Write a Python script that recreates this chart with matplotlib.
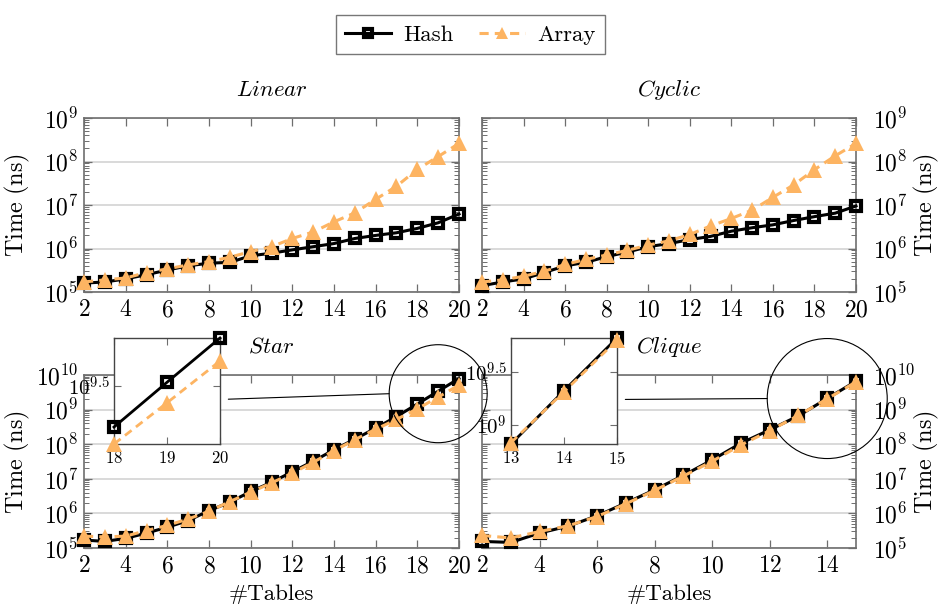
import matplotlib.pyplot as plt
import matplotlib.transforms as mtransforms
from matplotlib.patches import Circle, ConnectionPatch
from matplotlib.ticker import LogLocator, NullFormatter, FixedLocator, FixedFormatter

plt.rcParams['font.family'] = 'cmr10'
plt.rcParams['mathtext.fontset'] = 'cm'
plt.rcParams['axes.formatter.use_mathtext'] = True

HASH_COLOR = 'black'
ARRAY_COLOR = '#fdb462'
SPINE_COLOR = '#6e6e6e'
GRID_COLOR = '#cfcfcf'

# number of joined tables
tables_20 = list(range(2, 21))
tables_15 = list(range(2, 16))

# run times in ns
linear_hash = [1.6e5, 1.7e5, 2.0e5, 2.5e5, 3.2e5, 4.0e5, 4.6e5, 4.8e5, 6.8e5, 7.8e5,
               9.3e5, 1.1e6, 1.3e6, 1.7e6, 2.0e6, 2.3e6, 2.9e6, 3.9e6, 6.2e6]
linear_array = [1.7e5, 1.9e5, 2.1e5, 2.8e5, 3.4e5, 4.2e5, 5.0e5, 6.3e5, 8.5e5, 1.1e6,
                1.7e6, 2.4e6, 4.1e6, 6.6e6, 1.35e7, 2.7e7, 6.6e7, 1.3e8, 2.6e8]

cyclic_hash = [1.4e5, 1.7e5, 2.0e5, 2.8e5, 4.0e5, 4.8e5, 6.5e5, 8.3e5, 1.1e6, 1.3e6,
               1.6e6, 1.9e6, 2.5e6, 3.0e6, 3.5e6, 4.4e6, 5.4e6, 6.5e6, 9.5e6]
cyclic_array = [1.7e5, 1.9e5, 2.3e5, 3.0e5, 4.3e5, 5.6e5, 7.1e5, 9.1e5, 1.2e6, 1.5e6,
                2.1e6, 3.3e6, 4.9e6, 7.6e6, 1.5e7, 2.9e7, 6.5e7, 1.35e8, 2.6e8]

star_hash = [1.7e5, 1.55e5, 1.9e5, 2.7e5, 4.0e5, 6.2e5, 1.2e6, 2.1e6, 4.3e6, 7.9e6,
             1.6e7, 3.2e7, 6.9e7, 1.4e8, 2.9e8, 6.3e8, 1.45e9, 3.4e9, 7.9e9]
star_array = [2.2e5, 2.1e5, 2.2e5, 3.2e5, 4.5e5, 6.9e5, 1.15e6, 2.2e6, 4.1e6, 7.6e6,
              1.45e7, 3.0e7, 6.5e7, 1.35e8, 2.7e8, 5.2e8, 1.05e9, 2.3e9, 5.1e9]

clique_hash = [1.55e5, 1.45e5, 2.7e5, 4.3e5, 8.5e5, 2.0e6, 4.8e6, 1.25e7, 3.5e7, 1.07e8,
               2.6e8, 6.6e8, 2.1e9, 6.6e9]
clique_array = [2.3e5, 1.95e5, 3.0e5, 4.4e5, 8.1e5, 1.9e6, 4.6e6, 1.2e7, 3.2e7, 9.5e7,
                2.45e8, 6.8e8, 2.05e9, 6.3e9]

W, H = 941, 610
fig = plt.figure(figsize=(W / 100, H / 100), dpi=100)

TIME_LABEL = r'$\mathrm{Time\ (ns)}$'


def px_rect(x0, y0, x1, y1):
    return [x0 / W, 1 - y1 / H, (x1 - x0) / W, (y1 - y0) / H]


def draw_series(ax, x, hash_t, array_t, small=False):
    lw = 2.0 if small else 2.2
    # open squares, the line shows through them
    ax.plot(x, hash_t, color=HASH_COLOR, lw=lw, marker='s', ms=6.5, mew=3.0,
            mfc='none', mec=HASH_COLOR, label='Hash', clip_on=False, zorder=3)
    ax.plot(x, array_t, color=ARRAY_COLOR, lw=lw, ls=(0, (3, 2)), marker='^', ms=11,
            mew=0, mfc=ARRAY_COLOR, label='Array', clip_on=False, zorder=4)


def style_main(ax, x, ymax, title, right=False, xlabel=False):
    ax.set_yscale('log')
    ax.set_xlim(x[0], x[-1])
    ax.set_ylim(1e5, ymax)
    ax.set_xticks(range(2, x[-1] + 1, 2))
    ax.yaxis.set_major_locator(LogLocator(base=10, numticks=20))
    ax.yaxis.set_minor_locator(LogLocator(base=10, subs=range(2, 10), numticks=50))
    ax.yaxis.set_minor_formatter(NullFormatter())
    ax.grid(axis='y', which='major', color=GRID_COLOR, lw=1.1)
    ax.set_axisbelow(True)
    for sp in ax.spines.values():
        sp.set_color(SPINE_COLOR)
        sp.set_linewidth(1.2)
    ax.tick_params(which='both', direction='in', top=True, right=True,
                   color=SPINE_COLOR, labelsize=17)
    ax.tick_params(which='major', length=6, width=0.9)
    ax.tick_params(which='minor', length=3.5, width=0.7)
    ax.tick_params(axis='x', pad=5)
    ax.set_ylabel(TIME_LABEL, fontsize=17.5)
    if right:
        ax.tick_params(axis='y', labelleft=False, labelright=True, pad=12)
        ax.yaxis.set_label_position('right')
        ax.yaxis.set_label_coords(1.15, 0.5)
    else:
        ax.tick_params(axis='y', pad=4)
        ax.yaxis.set_label_coords(-0.138, 0.5)
    ax.set_title(r'$\mathit{' + title + '}$', fontsize=16.5, pad=16)
    if xlabel:
        ax.set_xlabel('#Tables', fontsize=16.5, labelpad=5)


def add_zoom(ax, rect, x, hash_t, array_t, n, ytick_exps, radius_px):
    xs, hs, arr = x[-n:], hash_t[-n:], array_t[-n:]
    ins = fig.add_axes(px_rect(*rect))
    ins.set_facecolor('white')
    draw_series(ins, xs, hs, arr, small=True)
    ins.set_yscale('log')
    lo, hi = min(hs + arr), max(hs + arr)
    ins.set_xlim(xs[0], xs[-1])
    ins.set_ylim(lo, hi)
    ins.set_xticks(xs)
    ins.yaxis.set_major_locator(FixedLocator([10 ** e for e in ytick_exps]))
    ins.yaxis.set_major_formatter(FixedFormatter(
        [r'$10^{%g}$' % e for e in ytick_exps]))
    ins.yaxis.set_minor_locator(FixedLocator([]))
    for sp in ins.spines.values():
        sp.set_color('#444444')
        sp.set_linewidth(1.0)
    ins.tick_params(which='both', direction='in', top=True, right=True,
                    color=SPINE_COLOR, labelsize=12, length=5, width=0.8, pad=4)
    ins.tick_params(axis='y', labelsize=15, pad=3)

    # circle around the magnified points, centred on the middle of the range
    cx = xs[len(xs) // 2]
    cy = (lo * hi) ** 0.5
    r_in = radius_px / 100
    place = fig.dpi_scale_trans + mtransforms.ScaledTranslation(cx, cy, ax.transData)
    fig.add_artist(Circle((0, 0), r_in, transform=place, fill=False,
                          ec='black', lw=0.8))
    fig.add_artist(ConnectionPatch(xyA=(1, 0.42), coordsA=ins.transAxes,
                                   xyB=(-r_in, 0), coordsB=place,
                                   color='black', lw=0.8, shrinkA=6, shrinkB=0))


ax_lin = fig.add_axes(px_rect(84, 118, 459, 292))
ax_cyc = fig.add_axes(px_rect(482, 118, 856, 292))
ax_star = fig.add_axes(px_rect(84, 375, 459, 548))
ax_clq = fig.add_axes(px_rect(482, 375, 856, 548))

draw_series(ax_lin, tables_20, linear_hash, linear_array)
draw_series(ax_cyc, tables_20, cyclic_hash, cyclic_array)
draw_series(ax_star, tables_20, star_hash, star_array)
draw_series(ax_clq, tables_15, clique_hash, clique_array)

style_main(ax_lin, tables_20, 1e9, 'Linear')
style_main(ax_cyc, tables_20, 1e9, 'Cyclic', right=True)
style_main(ax_star, tables_20, 1e10, 'Star', xlabel=True)
style_main(ax_clq, tables_15, 1e10, 'Clique', right=True, xlabel=True)

add_zoom(ax_star, (114, 338, 220, 444), tables_20, star_hash, star_array, 3, [9.5], 49)
add_zoom(ax_clq, (511, 338, 617, 444), tables_15, clique_hash, clique_array, 3, [9, 9.5], 60)

handles, labels = ax_lin.get_legend_handles_labels()
leg = fig.legend(handles, labels, loc='upper center', bbox_to_anchor=(0.5, 1 - 4 / H),
                 ncol=2, fontsize=16.5, frameon=True, fancybox=False, edgecolor='#555555',
                 handlelength=2.0, columnspacing=1.1, borderpad=0.4, handletextpad=0.55,
                 markerscale=0.85)
leg.get_frame().set_linewidth(1.0)

fig.savefig('out.png', dpi=100)
